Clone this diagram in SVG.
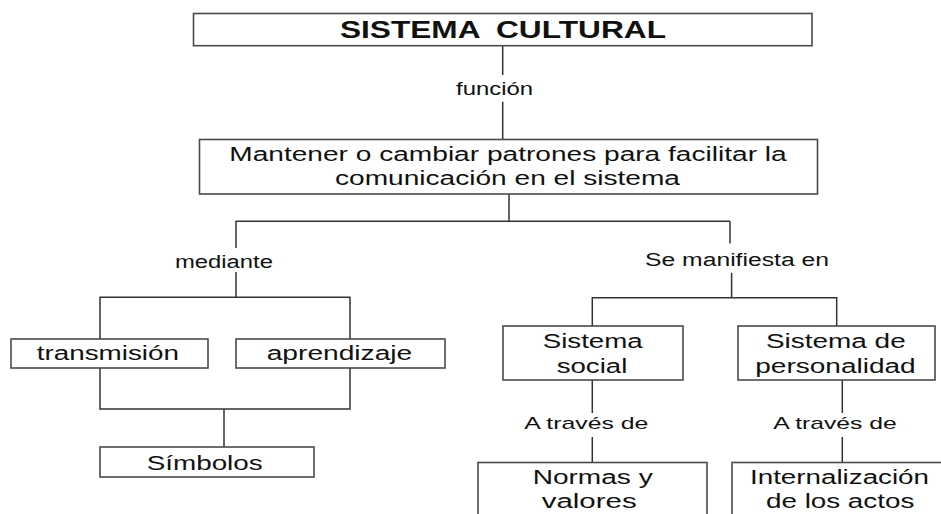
<svg xmlns="http://www.w3.org/2000/svg" width="941" height="514" viewBox="0 0 941 514">
<style>
.box{fill:#fff;stroke:#4a4a4a;stroke-width:1.6}
.ln{fill:none;stroke:#333;stroke-width:1.5}
text{font-family:"Liberation Sans",Arial,sans-serif;fill:#111}
.t{font-size:20px}
.m{font-size:19.5px}
.l{font-size:18px}
.s{font-size:17px}
.h{font-size:23px;font-weight:bold}
</style>
<rect width="941" height="514" fill="#fff"/>
<g id="connectors">
<path class="ln" d="M502.7 46V75M502.7 101.7V139.5"/>
<path class="ln" d="M509 194V221.3M235.7 221.3H730"/>
<path class="ln" d="M236 221.3V248M236 272V297.3"/>
<path class="ln" d="M730 221.3V243.5M731.6 272.7V297.7"/>
<path class="ln" d="M100 339V297.3H350V339"/>
<path class="ln" d="M100 368V409H350V368M224 409V447"/>
<path class="ln" d="M592.3 326V297.7H836.7V326"/>
<path class="ln" d="M592.3 380V413M592.3 437V462.5"/>
<path class="ln" d="M842.3 380V413M842.3 437V462.5"/>
</g>
<g id="lbl-funcion"><text class="l" x="456" y="95" textLength="77" lengthAdjust="spacingAndGlyphs">función</text></g>
<g id="lbl-mediante"><text class="l" x="175" y="267.5" textLength="98" lengthAdjust="spacingAndGlyphs">mediante</text></g>
<g id="lbl-manifiesta"><text class="l" x="645" y="265.5" textLength="184" lengthAdjust="spacingAndGlyphs">Se manifiesta en</text></g>
<g id="lbl-traves1"><text class="s" x="524.3" y="429" textLength="124" lengthAdjust="spacingAndGlyphs">A través de</text></g>
<g id="lbl-traves2"><text class="s" x="773.3" y="429" textLength="123.4" lengthAdjust="spacingAndGlyphs">A través de</text></g>
<g id="n-sistema-cultural">
<rect class="box" x="193.5" y="13.5" width="618.5" height="32.2"/>
<text class="h" y="37.5"><tspan x="340" textLength="139.3" lengthAdjust="spacingAndGlyphs">SISTEMA</tspan> <tspan x="496" textLength="170" lengthAdjust="spacingAndGlyphs">CULTURAL</tspan></text>
</g>
<g id="n-mantener">
<rect class="box" x="199.5" y="139.5" width="618" height="54.5"/>
<text class="m" x="229.3" y="160.7" textLength="557.4" lengthAdjust="spacingAndGlyphs">Mantener o cambiar patrones para facilitar la</text>
<text class="m" x="335" y="185" textLength="345" lengthAdjust="spacingAndGlyphs">comunicación en el sistema</text>
</g>
<g id="n-transmision">
<rect class="box" x="11" y="339" width="197" height="29"/>
<text class="t" x="36.7" y="360" textLength="142.3" lengthAdjust="spacingAndGlyphs">transmisión</text>
</g>
<g id="n-aprendizaje">
<rect class="box" x="236" y="339" width="209" height="29"/>
<text class="t" x="266.7" y="360" textLength="145.6" lengthAdjust="spacingAndGlyphs">aprendizaje</text>
</g>
<g id="n-simbolos">
<rect class="box" x="100" y="447" width="214" height="30"/>
<text class="t" x="146.7" y="470" textLength="116" lengthAdjust="spacingAndGlyphs">Símbolos</text>
</g>
<g id="n-sistema-social">
<rect class="box" x="503" y="326" width="180" height="54"/>
<text class="t" x="542.7" y="347.7" textLength="100" lengthAdjust="spacingAndGlyphs">Sistema</text>
<text class="t" x="556.7" y="372.7" textLength="70.6" lengthAdjust="spacingAndGlyphs">social</text>
</g>
<g id="n-personalidad">
<rect class="box" x="738" y="326" width="197" height="54"/>
<text class="t" x="766" y="347.7" textLength="139.7" lengthAdjust="spacingAndGlyphs">Sistema de</text>
<text class="t" x="755.3" y="372.7" textLength="160.4" lengthAdjust="spacingAndGlyphs">personalidad</text>
</g>
<g id="n-normas">
<rect class="box" x="478" y="462.5" width="229" height="70"/>
<text class="t" x="532.7" y="484" textLength="120" lengthAdjust="spacingAndGlyphs">Normas y</text>
<text class="t" x="541.7" y="508.3" textLength="95" lengthAdjust="spacingAndGlyphs">valores</text>
</g>
<g id="n-internalizacion">
<rect class="box" x="732" y="462.5" width="240" height="70"/>
<text class="t" x="750" y="484" textLength="179" lengthAdjust="spacingAndGlyphs">Internalización</text>
<text class="t" x="766" y="508.3" textLength="148.3" lengthAdjust="spacingAndGlyphs">de los actos</text>
</g>
</svg>
